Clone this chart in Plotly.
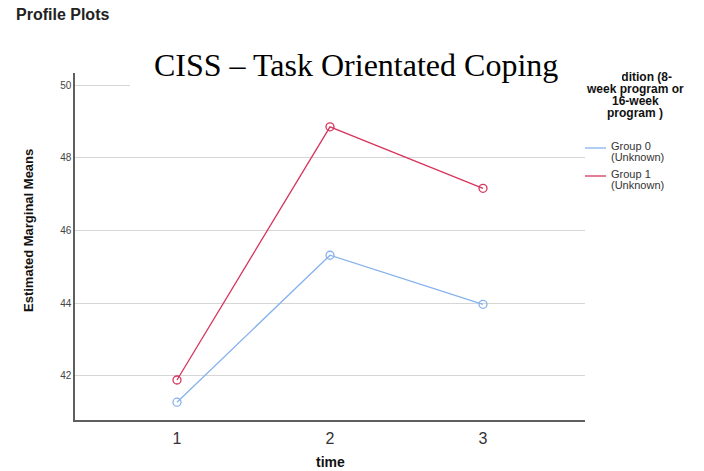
import plotly.graph_objects as go

# ---- data ----
time_points = [1, 2, 3]
group_names = ["Group 0", "Group 1"]
group_sub = ["(Unknown)", "(Unknown)"]
group0_means = [41.28, 45.32, 43.97]
group1_means = [41.89, 48.85, 47.16]
y_ticks = [42, 44, 46, 48, 50]
x_ticks = [1, 2, 3]
legend_title_lines = ["Condition (8-", "week program or", "16-week", "program )"]

colors = ["#86b2ee", "#d8345d"]

W, H = 704, 471
L, R, T, B = 75, 119, 73, 51
PW, PH = W - L - R, H - T - B


def px2x(px):
    return (px - L) / PW


def px2y(py):
    return (H - B - py) / PH


fig = go.Figure()
for vals, col, name in zip([group0_means, group1_means], colors, group_names):
    fig.add_trace(go.Scatter(
        x=time_points, y=vals, mode="lines+markers", name=name,
        line=dict(color=col, width=1.3),
        marker=dict(symbol="circle-open", size=8, color=col, line=dict(width=1.3, color=col)),
        showlegend=False,
    ))

FONT = "Arial, Liberation Sans"
annotations = []
# Legend title lines (bold); first line partly hidden behind the title box
annotations.append(dict(
    text="<b>" + legend_title_lines[0] + "</b>", xref="paper", yref="paper",
    x=px2x(674), y=px2y(77), xanchor="right", yanchor="middle", showarrow=False,
    font=dict(family=FONT, size=12, color="#111111"),
))
for txt, yc in zip(legend_title_lines[1:], [89, 101, 113]):
    annotations.append(dict(
        text="<b>" + txt + "</b>", xref="paper", yref="paper", x=px2x(635), y=px2y(yc),
        xanchor="center", yanchor="middle", showarrow=False,
        font=dict(family=FONT, size=12, color="#111111"),
    ))
# white boxes behind title
annotations.append(dict(
    text=" ", xref="paper", yref="paper", x=px2x(130), y=px2y(40),
    xanchor="left", yanchor="top", showarrow=False, width=455, height=49,
    bgcolor="white", borderpad=0, borderwidth=0,
))
annotations.append(dict(
    text=" ", xref="paper", yref="paper", x=px2x(560), y=px2y(62),
    xanchor="left", yanchor="top", showarrow=False, width=62, height=21,
    bgcolor="white", borderpad=0, borderwidth=0,
))
# main title
annotations.append(dict(
    text="CISS – Task Orientated Coping", xref="paper", yref="paper",
    x=px2x(152), y=px2y(65), xanchor="left", yanchor="middle", showarrow=False,
    font=dict(family="Liberation Serif, Times New Roman", size=32, color="#000000"),
))
# Profile Plots header
annotations.append(dict(
    text="<b>Profile Plots</b>", xref="paper", yref="paper",
    x=px2x(14), y=px2y(15), xanchor="left", yanchor="middle", showarrow=False,
    font=dict(family=FONT, size=16, color="#222222"),
))
# Axis titles
annotations.append(dict(
    text="<b>time</b>", xref="paper", yref="paper",
    x=px2x(330), y=px2y(462), xanchor="center", yanchor="middle", showarrow=False,
    font=dict(family=FONT, size=14, color="#111111"),
))
annotations.append(dict(
    text="<b>Estimated Marginal Means</b>", xref="paper", yref="paper", textangle=-90,
    x=px2x(28), y=px2y(231), xanchor="center", yanchor="middle", showarrow=False,
    font=dict(family=FONT, size=13, color="#111111"),
))
# Legend entries
shapes = []
entry_y = [(146, 157, 148), (174, 185, 176)]
for (y1, y2, yl), col, nm, sub in zip(entry_y, colors, group_names, group_sub):
    shapes.append(dict(type="line", xref="paper", yref="paper",
                       x0=px2x(585), x1=px2x(606), y0=px2y(yl), y1=px2y(yl),
                       line=dict(color=col, width=1.3)))
    for txt, yc in [(nm, y1), (sub, y2)]:
        annotations.append(dict(
            text=txt, xref="paper", yref="paper", x=px2x(609), y=px2y(yc),
            xanchor="left", yanchor="middle", showarrow=False,
            font=dict(family=FONT, size=11, color="#333333"),
        ))

fig.update_layout(
    width=W, height=H,
    margin=dict(l=L, r=R, t=T, b=B, autoexpand=False),
    paper_bgcolor="white", plot_bgcolor="white",
    showlegend=False,
    annotations=annotations,
    shapes=shapes,
    xaxis=dict(
        range=[1 / 3, 11 / 3], tickvals=x_ticks, ticktext=[str(v) for v in x_ticks],
        showgrid=False, zeroline=False, showline=True, linecolor="#5f5f5f", linewidth=1.5,
        ticks="", ticklabelstandoff=3, automargin=False,
        tickfont=dict(family=FONT, size=16, color="#333333"),
    ),
    yaxis=dict(
        range=[40.79, 50.33], tickvals=y_ticks, ticktext=[str(v) for v in y_ticks],
        showgrid=True, gridcolor="#d6d6d6", gridwidth=1.3, zeroline=False,
        showline=True, linecolor="#5f5f5f", linewidth=1.5, automargin=False,
        ticks="", tickfont=dict(family=FONT, size=10, color="#444444"),
    ),
)

fig.write_html("out.html")
